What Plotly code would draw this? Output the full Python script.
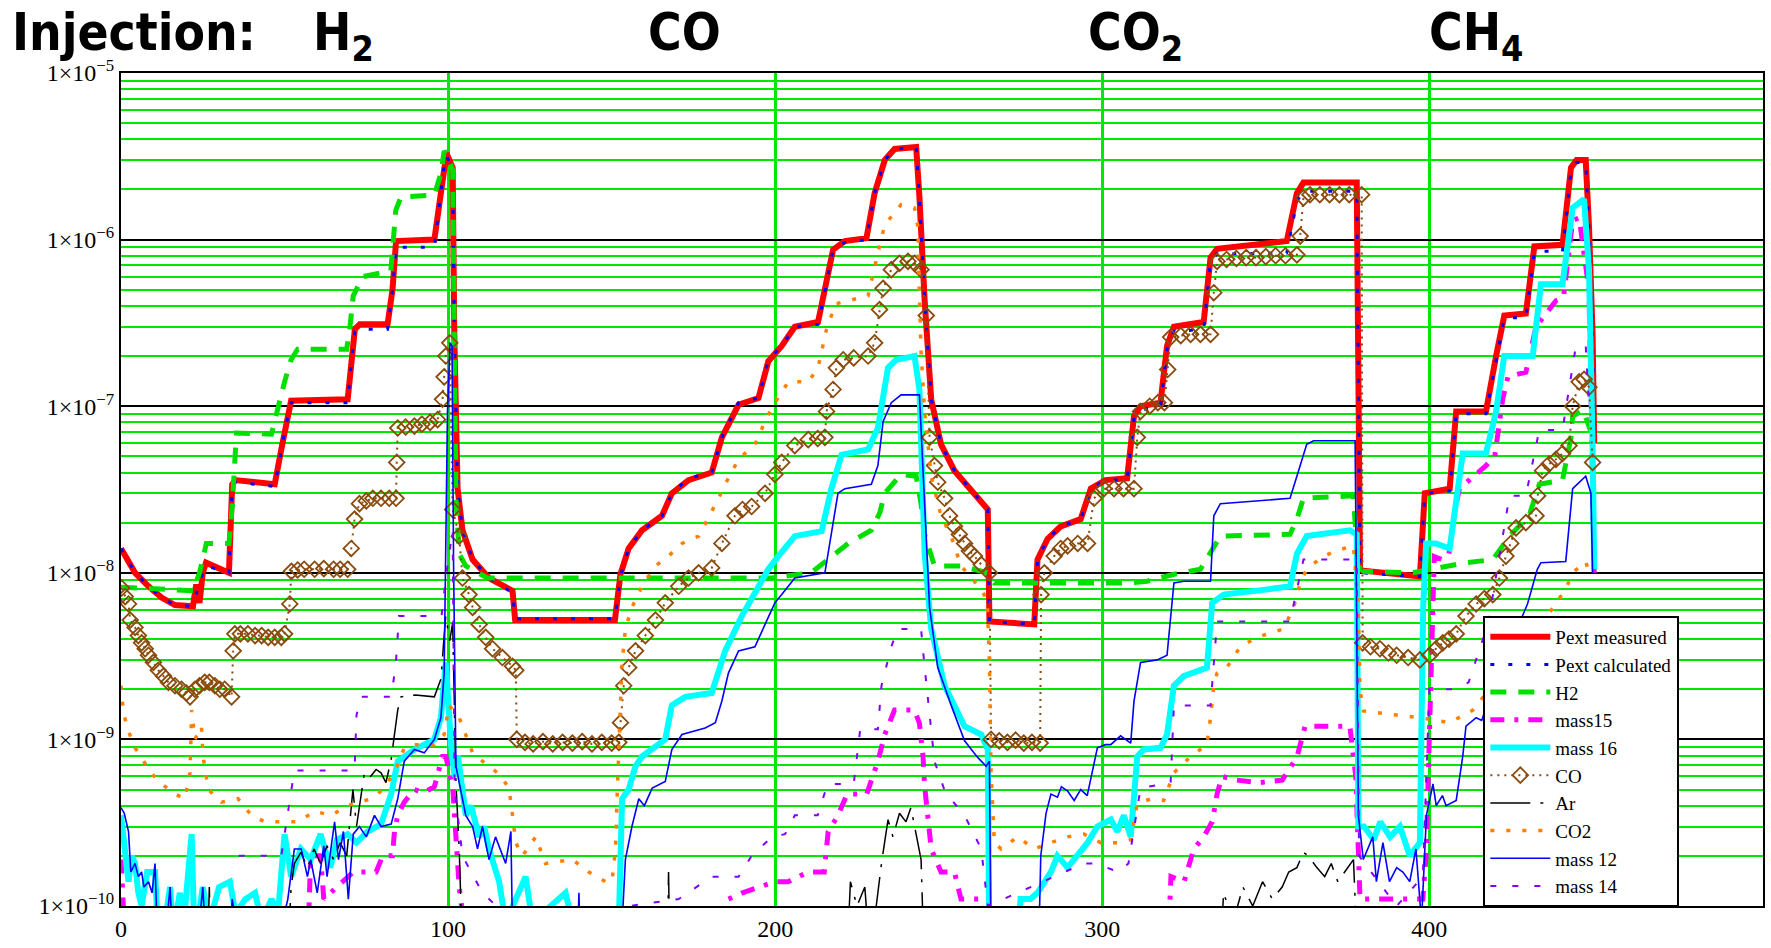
import plotly.graph_objects as go

# ---------------- data (x = time index, y = pressure) ----------------
pext_measured = [
    (0, 1.4e-8), (2.3, 1.17e-8), (4.3, 1.0e-8), (8.4, 8.3e-9), (12.4, 7.1e-9), (16.5, 6.4e-9),
    (21.1, 6.3e-9), (22, 6.3e-9), (23, 8.5e-9), (24, 6.6e-9), (25, 1.0e-8), (26, 1.15e-8),
    (33, 1.0e-8), (34, 3.4e-8), (35, 3.6e-8), (47, 3.4e-8), (49, 5.5e-8), (50, 7e-8),
    (52, 1.08e-7), (69.3, 1.1e-7), (70.5, 2.0e-7), (71.5, 2.9e-7), (73, 3.1e-7), (81.5, 3.1e-7),
    (83, 5e-7), (84.1, 9.8e-7), (95.8, 1.0e-6), (97, 1.5e-6), (98.8, 3.0e-6), (99.5, 3.3e-6),
    (101.4, 2.7e-6), (101.9, 2.7e-7), (102.9, 3.2e-8), (104.4, 1.8e-8), (107.5, 1.2e-8),
    (112.5, 9.3e-9), (119.7, 7.8e-9), (120.5, 5.2e-9), (151, 5.2e-9), (152.7, 9.8e-9),
    (155.2, 1.4e-8), (159.3, 1.8e-8), (165.4, 2.2e-8), (168.4, 3.0e-8), (173.5, 3.6e-8),
    (180.6, 4.0e-8), (183.7, 6.5e-8), (188.8, 1.02e-7), (194.9, 1.12e-7), (197.9, 1.86e-7),
    (202, 2.3e-7), (206, 3.0e-7), (213.1, 3.2e-7), (215.2, 4.9e-7), (217.7, 8.7e-7),
    (221.3, 9.8e-7), (227.9, 1.02e-6), (230.4, 1.9e-6), (233.5, 3.0e-6), (236.5, 3.5e-6),
    (243.1, 3.6e-6), (244.1, 1.8e-6), (245.7, 4.3e-7), (247.7, 1.1e-7), (250.7, 5.9e-8),
    (254.8, 4.1e-8), (260.9, 3.0e-8), (265, 2.4e-8), (265.5, 5.1e-9), (279.2, 4.9e-9),
    (280.2, 1.2e-8), (283.3, 1.6e-8), (287.3, 1.9e-8), (293.4, 2.1e-8), (296.5, 3.2e-8),
    (301, 3.6e-8), (307.6, 3.7e-8), (309.7, 8.7e-8), (311.7, 1.0e-7), (317.8, 1.05e-7),
    (319.8, 2.3e-7), (321.9, 3.0e-7), (331, 3.2e-7), (333.1, 7.8e-7), (335.1, 8.8e-7),
    (356.4, 9.8e-7), (359.5, 1.9e-6), (361.5, 2.2e-6), (377.8, 2.2e-6), (378.8, 1.05e-8),
    (379.8, 1.03e-8), (397.1, 9.5e-9), (398.6, 3.0e-8), (406.2, 3.2e-8), (408.2, 9.3e-8),
    (417.3, 9.3e-8), (420.4, 2.0e-7), (422.9, 3.5e-7), (429.5, 3.6e-7), (432.1, 9.1e-7),
    (440.7, 9.3e-7), (443.3, 2.7e-6), (445, 3.0e-6), (447.8, 3.0e-6), (448.8, 1.2e-6),
    (449.9, 2.7e-7), (450.4, 6e-8),
]

pext_calculated = [
    (0, 1.4e-8), (2.3, 1.17e-8), (4.3, 1.0e-8), (8.4, 8.3e-9), (12.4, 7.1e-9), (16.5, 6.4e-9),
    (21.1, 6.3e-9), (23, 7.5e-9), (25, 1.0e-8), (26, 1.1e-8), (33, 1.0e-8), (34, 3.4e-8),
    (35, 3.5e-8), (47, 3.3e-8), (49, 5.5e-8), (50, 7e-8), (52, 1.05e-7), (69.3, 1.05e-7),
    (70.5, 1.9e-7), (71.5, 2.8e-7), (73, 2.9e-7), (81.5, 2.9e-7), (83, 5e-7), (84.1, 9e-7),
    (95.8, 9e-7), (97, 1.4e-6), (98.8, 2.8e-6), (99.5, 3.2e-6), (101.4, 2.6e-6), (101.9, 2.7e-7),
    (102.9, 3.2e-8), (104.4, 1.8e-8), (107.5, 1.2e-8), (112.5, 9.3e-9), (119.7, 7.6e-9),
    (120.5, 5.3e-9), (151, 5.3e-9), (152.7, 9.5e-9), (155.2, 1.4e-8), (159.3, 1.8e-8),
    (165.4, 2.2e-8), (168.4, 3.0e-8), (173.5, 3.7e-8), (180.6, 4.0e-8), (183.7, 6.5e-8),
    (188.8, 1.05e-7), (194.9, 1.12e-7), (197.9, 1.9e-7), (202, 2.3e-7), (206, 3.0e-7),
    (213.1, 3.1e-7), (215.2, 4.9e-7), (217.7, 8.7e-7), (221.3, 9.6e-7), (227.9, 1.0e-6),
    (230.4, 1.9e-6), (233.5, 3.0e-6), (236.5, 3.5e-6), (243.1, 3.6e-6), (244.1, 1.8e-6),
    (245.7, 4.3e-7), (247.7, 1.1e-7), (250.7, 5.9e-8), (254.8, 4.1e-8), (260.9, 3.0e-8),
    (265, 2.4e-8), (265.5, 5.1e-9), (279.2, 4.9e-9), (280.2, 1.2e-8), (283.3, 1.6e-8),
    (287.3, 1.9e-8), (293.4, 2.1e-8), (296.5, 3.2e-8), (301, 3.6e-8), (307.6, 3.6e-8),
    (309.7, 8.5e-8), (311.7, 9.5e-8), (317.8, 1.0e-7), (319.8, 2.2e-7), (321.9, 2.8e-7),
    (331, 2.9e-7), (333.1, 7.4e-7), (335.1, 8.2e-7), (356.4, 8.3e-7), (359.5, 1.7e-6),
    (361.5, 1.95e-6), (377.8, 1.95e-6), (378.8, 1.0e-8), (397.1, 9.5e-9), (398.6, 3.0e-8),
    (406.2, 3.1e-8), (408.2, 9e-8), (417.3, 9e-8), (420.4, 1.9e-7), (422.9, 3.4e-7),
    (429.5, 3.4e-7), (432.1, 8.5e-7), (440.7, 8.5e-7), (443.3, 2.6e-6), (445, 2.9e-6),
    (447.8, 2.9e-6), (448.8, 1.1e-6), (449.9, 2.5e-7), (450.4, 6e-8),
]

h2 = [
    (0, 8.2e-9), (10, 8.0e-9), (20, 7.8e-9), (22, 7.8e-9), (24, 1.0e-8), (25.1, 1.2e-8),
    (26.1, 1.5e-8), (33, 1.5e-8), (34, 2.5e-8), (35.3, 6.9e-8), (46, 6.8e-8), (50, 1.4e-7),
    (52, 1.9e-7), (54, 2.2e-7), (69, 2.2e-7), (70, 3e-7), (71, 4.6e-7), (74, 6.0e-7),
    (82.5, 6.5e-7), (84, 1.5e-6), (85.6, 1.8e-6), (95.8, 1.85e-6), (97.8, 2.5e-6), (98.8, 3.4e-6),
    (99.8, 3.2e-6), (101.4, 2.6e-6), (101.9, 2.7e-7), (102.4, 2.8e-8), (103.4, 1.3e-8),
    (105.4, 1.1e-8), (112, 9.3e-9), (150, 9.3e-9), (199, 9.3e-9), (211, 1.0e-8), (216.2, 1.2e-8),
    (222.3, 1.5e-8), (229.4, 1.8e-8), (232, 2.3e-8), (233.5, 3.0e-8), (238.5, 3.9e-8),
    (243.1, 3.8e-8), (244.6, 2.6e-8), (245.7, 1.7e-8), (248.7, 1.1e-8), (256.8, 1.1e-8),
    (264.9, 1.0e-8), (267, 8.7e-9), (308.7, 8.7e-9), (313.7, 8.9e-9), (321.9, 9.8e-9),
    (330, 1.05e-8), (332.5, 1.26e-8), (336.1, 1.66e-8), (357.4, 1.7e-8), (359.5, 2.1e-8),
    (361.5, 2.8e-8), (376.7, 2.9e-8), (378.3, 1.1e-8), (379.8, 1.02e-8), (395, 1.0e-8),
    (401, 1.05e-8), (411.2, 1.15e-8), (419.4, 1.2e-8), (424.5, 1.66e-8), (430.5, 2.2e-8),
    (433.6, 3.4e-8), (440.7, 3.6e-8), (443.3, 6.5e-8), (443.8, 8.7e-8), (447, 9.5e-8),
    (449.4, 7e-8),
]

mass15 = [
    (0, 1.9e-10), (0.6, 1.2e-10), (1.5, 5e-11), (57, 5e-11), (58, 2e-10), (61, 2e-10),
    (62, 1.1e-10), (71, 1.6e-10), (78, 1.6e-10), (80, 2e-10), (83, 2e-10), (83.6, 2.8e-10),
    (84.6, 3.5e-10), (86.6, 4.2e-10), (89.7, 5e-10), (92.7, 4.8e-10), (95.8, 5.2e-10),
    (98.3, 7.9e-10), (99.3, 7.9e-10), (101.4, 5.2e-10), (102.4, 2.6e-10), (103.4, 1.3e-10),
    (104.4, 9e-11), (106, 5e-11), (184, 5e-11), (185.7, 1.1e-10), (190, 1.2e-10), (200, 1.4e-10),
    (204, 1.4e-10), (210, 1.6e-10), (215, 1.6e-10), (216.2, 2.8e-10), (219.2, 3.5e-10),
    (222, 4.7e-10), (228, 4.7e-10), (231.4, 7.4e-10), (233.5, 1.07e-9), (236.5, 1.5e-9),
    (242.6, 1.5e-9), (244.1, 1.25e-9), (245.2, 7.9e-10), (245.7, 5.2e-10), (246.7, 3.4e-10),
    (247.7, 2.2e-10), (250.7, 1.6e-10), (254.8, 1.6e-10), (256.8, 1.1e-10), (263, 1.1e-10),
    (264, 5e-11), (320, 5e-11), (321, 1.5e-10), (325, 1.4e-10), (328, 2.2e-10), (331, 2.6e-10),
    (333.6, 3.2e-10), (335.1, 4.7e-10), (336.6, 6e-10), (341, 5.7e-10), (348, 5.5e-10),
    (355, 5.7e-10), (359.5, 7.8e-10), (362, 1.2e-9), (369.6, 1.2e-9), (375.7, 1.2e-9),
    (377.5, 6e-10), (378.8, 1.1e-10), (390, 1.1e-10), (398, 1.1e-10), (399, 2e-10),
    (400.5, 3e-9), (401.5, 1.25e-8), (404, 1.2e-8), (406, 1.3e-8), (408, 2.5e-8), (409.2, 3.2e-8),
    (417.3, 4.4e-8), (420, 5e-8), (422.4, 1.1e-7), (424, 1.5e-7), (429.5, 1.6e-7), (432.6, 3.0e-7),
    (438.7, 4.3e-7), (441, 4.5e-7), (443.8, 1.3e-6), (445.8, 1.35e-6), (448.8, 5e-7),
    (449.9, 5e-8), (450.4, 1e-8),
]

mass16 = [
    (0, 3.5e-10), (1, 2.5e-10), (2.3, 1.4e-10), (3.3, 2e-10), (4.3, 1.8e-10), (5.3, 1.2e-10),
    (6.3, 1e-10), (8, 1.6e-10), (10.4, 1.6e-10), (11.5, 6e-11), (13.4, 8e-11), (15, 1.3e-10),
    (16, 7e-11), (18, 1.2e-10), (19, 7e-11), (20, 1.2e-10), (21.6, 2.7e-10), (22.5, 6e-11),
    (25, 1.3e-10), (27, 8e-11), (30, 1.3e-10), (33.3, 1.4e-10), (35, 9e-11), (38, 1.1e-10),
    (41, 1.2e-10), (43, 8e-11), (46, 1.1e-10), (48, 9e-11), (50, 2.7e-10), (52, 1.5e-10),
    (55, 2.2e-10), (58, 1.9e-10), (61, 2.7e-10), (64, 1.7e-10), (66, 2.5e-10), (69.3, 2.7e-10),
    (72, 2.4e-10), (75.4, 2.8e-10), (79.5, 3.1e-10), (82.6, 4.7e-10), (84.6, 7.4e-10),
    (89.7, 8.7e-10), (95.8, 1.0e-9), (97.8, 1.35e-9), (99.3, 2.9e-9), (100.9, 9.3e-10),
    (102, 6e-10), (103, 8e-10), (105.4, 3.5e-10), (107, 4e-10), (109.5, 2.6e-10), (111, 3e-10),
    (112.5, 2.2e-10), (115.6, 1.4e-10), (117.6, 8e-11), (123.7, 1.5e-10), (125.8, 8e-11),
    (135.9, 1.2e-10), (138, 8e-11), (152.2, 8e-11), (153.2, 4.4e-10), (155.2, 5e-10),
    (157.3, 6.9e-10), (159.3, 7.9e-10), (166.4, 1.0e-9), (168.4, 1.6e-9), (172.5, 1.8e-9),
    (180.6, 1.9e-9), (184.7, 3.4e-9), (189.8, 5.5e-9), (197.9, 1.05e-8), (201, 1.26e-8),
    (206, 1.66e-8), (214.2, 1.78e-8), (217.2, 3.2e-8), (220.3, 5.1e-8), (228.4, 5.5e-8),
    (231.4, 7.4e-8), (234.5, 1.7e-7), (237, 1.9e-7), (242.6, 2.0e-7), (244.1, 1.26e-7),
    (245.7, 1.3e-8), (247.7, 4.6e-9), (251.8, 2.1e-9), (257.9, 1.2e-9), (263, 1.07e-9),
    (265, 8.7e-10), (265.5, 5e-11), (274, 5e-11), (275, 1.1e-10), (278, 1.1e-10),
    (280.2, 1.2e-10), (284.3, 1.6e-10), (286.3, 2e-10), (289.4, 1.7e-10), (292.4, 2e-10),
    (295.5, 2.4e-10), (298.5, 3e-10), (302.6, 3.3e-10), (304.6, 2.8e-10), (306.6, 3.5e-10),
    (308.7, 2.6e-10), (310.7, 7.9e-10), (312.7, 8.7e-10), (317.8, 8.9e-10), (319.8, 1.07e-9),
    (321.9, 2.1e-9), (324.9, 2.4e-9), (332, 2.7e-9), (333.6, 6.6e-9), (337.1, 7.4e-9),
    (349.3, 7.9e-9), (357.4, 8.3e-9), (359.5, 1.3e-8), (362.5, 1.66e-8), (375.7, 1.8e-8),
    (377.8, 1.7e-8), (378.3, 3e-10), (380, 3e-10), (383, 2.5e-10), (385, 3.2e-10), (388, 2.6e-10),
    (391, 3e-10), (394, 2e-10), (397.1, 2.4e-10), (398.1, 6.2e-9), (399, 1.5e-8), (402, 1.5e-8),
    (406.2, 1.4e-8), (410.2, 5.2e-8), (417.3, 5.2e-8), (420.4, 9.3e-8), (422.9, 2.0e-7),
    (431.6, 2.0e-7), (434.1, 5.4e-7), (440.7, 5.4e-7), (443.8, 1.55e-6), (447.3, 1.75e-6),
    (448.8, 6.6e-7), (449.9, 5.9e-8), (450.4, 1.05e-8),
]

co = [
    (0.2, 8.1e-9), (1.3, 7.2e-9), (2.3, 6.5e-9), (2.8, 5.2e-9), (4.3, 4.7e-9), (5.3, 4.2e-9),
    (6.3, 3.8e-9), (7.4, 3.5e-9), (8.4, 3.2e-9), (9.9, 2.9e-9), (11.4, 2.6e-9), (13, 2.4e-9),
    (14.5, 2.2e-9), (16.5, 2.1e-9), (18.5, 2.0e-9), (20, 1.9e-9), (21.1, 1.8e-9), (22.6, 2.0e-9),
    (24, 2.1e-9), (25.6, 2.2e-9), (27, 2.2e-9), (28.7, 2.1e-9), (30.2, 2.0e-9), (31.7, 2.0e-9),
    (33.8, 1.8e-9), (34.3, 3.4e-9), (34.8, 4.3e-9), (36.5, 4.3e-9), (38.8, 4.3e-9), (41, 4.2e-9),
    (43, 4.2e-9), (45, 4.1e-9), (47, 4.1e-9), (49, 4.1e-9), (50, 4.3e-9), (51.6, 6.5e-9),
    (52.1, 1.02e-8), (54, 1.04e-8), (56, 1.05e-8), (59.2, 1.05e-8), (62, 1.06e-8), (65, 1.05e-8),
    (67, 1.05e-8), (69.3, 1.05e-8), (70.4, 1.4e-8), (71.4, 2.1e-8), (72.9, 2.6e-8), (75, 2.7e-8),
    (77, 2.8e-8), (79.5, 2.8e-8), (82, 2.8e-8), (84.1, 2.8e-8), (84.3, 4.6e-8), (84.6, 7.4e-8),
    (87, 7.5e-8), (89.7, 7.6e-8), (92, 7.8e-8), (94.5, 8.0e-8), (96.8, 8.3e-8), (98.3, 1.1e-7),
    (98.8, 1.5e-7), (99.3, 2.0e-7), (100.5, 2.4e-7), (101.4, 2.4e-8), (103.4, 1.66e-8),
    (104.4, 9.3e-9), (106.4, 7.4e-9), (107.5, 6.2e-9), (109.5, 4.9e-9), (111.5, 4.1e-9),
    (113.6, 3.5e-9), (116.6, 3.1e-9), (119.7, 2.75e-9), (120.7, 2.6e-9), (121, 1.0e-9),
    (123.5, 9.6e-10), (126, 9.4e-10), (129, 9.7e-10), (132, 9.4e-10), (135, 9.6e-10),
    (138, 9.5e-10), (141, 9.7e-10), (144, 9.4e-10), (147, 9.6e-10), (150, 9.5e-10),
    (152.2, 9.6e-10), (152.7, 1.26e-9), (153.7, 2.1e-9), (155.2, 2.7e-9), (157.3, 3.4e-9),
    (160.3, 4.2e-9), (163.4, 5.2e-9), (166.4, 6.6e-9), (170.5, 8.3e-9), (173.5, 9.3e-9),
    (176.6, 1.0e-8), (180.6, 1.07e-8), (183.7, 1.5e-8), (187.7, 2.2e-8), (190, 2.4e-8),
    (192.8, 2.5e-8), (196.9, 3.0e-8), (199.9, 3.9e-8), (202, 4.6e-8), (206, 5.8e-8),
    (210.1, 6.3e-8), (213, 6.4e-8), (215.2, 6.5e-8), (215.7, 9.3e-8), (217.7, 1.26e-7),
    (218.7, 1.7e-7), (220.8, 1.9e-7), (224, 1.95e-7), (228.4, 2.0e-7), (230.4, 2.4e-7),
    (231.9, 3.8e-7), (233, 5.1e-7), (235.5, 6.6e-7), (238, 7.2e-7), (240.6, 7.4e-7),
    (242.6, 7.2e-7), (244.6, 6.6e-7), (246.2, 3.5e-7), (247.2, 6.5e-8), (248.7, 4.4e-8),
    (249.7, 3.5e-8), (251.8, 2.8e-8), (253.3, 2.2e-8), (254.8, 1.9e-8), (256.3, 1.7e-8),
    (257.9, 1.5e-8), (259.4, 1.35e-8), (260.9, 1.26e-8), (263, 1.12e-8), (265.5, 1.0e-8),
    (266, 1.0e-9), (268.5, 9.8e-10), (271, 9.6e-10), (273.5, 9.9e-10), (276, 9.5e-10),
    (278.5, 9.6e-10), (281, 9.5e-10), (281.3, 7.4e-9), (282.3, 1.0e-8), (285.3, 1.26e-8),
    (287.3, 1.4e-8), (289.4, 1.45e-8), (292.5, 1.5e-8), (295.5, 1.5e-8), (297.5, 2.8e-8),
    (300.5, 3.2e-8), (303.6, 3.2e-8), (306.5, 3.2e-8), (309.7, 3.2e-8), (310.7, 6.5e-8),
    (311.7, 9.3e-8), (314.5, 1.0e-7), (317, 1.05e-7), (319, 1.05e-7), (320, 1.66e-7),
    (320.9, 2.6e-7), (324, 2.65e-7), (327, 2.7e-7), (330, 2.7e-7), (333.1, 2.7e-7),
    (334.1, 4.8e-7), (335.1, 7.4e-7), (338, 7.6e-7), (341, 7.7e-7), (344, 7.8e-7),
    (347, 7.8e-7), (350, 7.9e-7), (353, 8.0e-7), (356, 8.0e-7), (359.5, 8.1e-7),
    (360.5, 1.05e-6), (361.5, 1.78e-6), (363.5, 1.86e-6), (366.5, 1.86e-6), (369.5, 1.86e-6),
    (372.5, 1.86e-6), (375.5, 1.86e-6), (379.3, 1.86e-6), (379.6, 3.8e-9), (382, 3.6e-9),
    (384.9, 3.5e-9), (387.5, 3.3e-9), (390, 3.2e-9), (393.5, 3.1e-9), (397.1, 3.0e-9),
    (400.1, 3.2e-9), (402, 3.5e-9), (404.1, 3.8e-9), (406, 4.0e-9), (408.2, 4.3e-9),
    (411.2, 5.5e-9), (414.3, 6.5e-9), (416.8, 7.0e-9), (419.4, 7.4e-9), (421.4, 9.3e-9),
    (423.4, 1.26e-8), (424.9, 1.5e-8), (426.5, 1.86e-8), (429.5, 2.0e-8), (432.6, 2.2e-8),
    (433.1, 2.9e-8), (434.6, 4.1e-8), (436.6, 4.5e-8), (438.7, 4.8e-8), (440.7, 5.2e-8),
    (442.7, 5.8e-8), (443.8, 1.0e-7), (445.8, 1.4e-7), (447.3, 1.45e-7), (448.8, 1.3e-7),
    (449.9, 4.6e-8),
]

ar = [
    (0, 5e-11), (26.5, 5e-11), (27, 1.3e-10), (27.5, 5e-11), (51, 5e-11), (52, 1.3e-10),
    (53, 1.8e-10), (55, 2.1e-10), (57, 1.7e-10), (59, 2.2e-10), (61, 1.8e-10), (63, 2.3e-10),
    (65, 1.9e-10), (67, 2.4e-10), (69, 2.0e-10), (70.9, 5e-10), (72, 3e-10), (74.4, 6.3e-10),
    (76, 5.9e-10), (78, 6.6e-10), (79.5, 6.3e-10), (81, 5.5e-10), (82.6, 7.6e-10),
    (84.6, 1.5e-9), (85.6, 1.8e-9), (90, 1.85e-9), (95.8, 1.8e-9), (97.8, 2.3e-9),
    (98.8, 4.2e-9), (99.3, 5.5e-9), (100.5, 3.9e-9), (101.4, 5e-9), (102.4, 5.5e-10),
    (103.4, 2.2e-10), (104.4, 5e-11), (167, 5e-11), (167.4, 1.6e-10), (167.8, 5e-11),
    (222, 5e-11), (223, 1.4e-10), (225, 1e-10), (227.4, 1.3e-10), (229, 5e-11), (232.5, 1.8e-10),
    (234.5, 3.3e-10), (236, 2.6e-10), (238, 3.6e-10), (240, 3.2e-10), (241.5, 3.9e-10),
    (243, 2.8e-10), (244.6, 1.9e-10), (245.5, 5e-11), (336, 5e-11), (337.1, 1.2e-10),
    (340, 8e-11), (343, 1.3e-10), (346, 1e-10), (349, 1.4e-10), (352, 1.1e-10), (355, 1.3e-10),
    (357, 1.6e-10), (359.5, 1.7e-10), (361.5, 2.1e-10), (363, 2.0e-10), (365.6, 1.7e-10),
    (368, 1.5e-10), (370, 1.8e-10), (372, 1.4e-10), (374, 1.6e-10), (376.8, 1.9e-10),
    (378, 5e-11), (450, 5e-11),
]

co2 = [
    (0, 2.1e-9), (0.7, 1.5e-9), (1.7, 1.2e-9), (4.3, 8.9e-10), (6.3, 7.8e-10), (8.4, 6.6e-10),
    (11.4, 5.6e-10), (16.5, 4.7e-10), (19.5, 4.4e-10), (21.1, 6.3e-10), (21.6, 1.5e-9),
    (22.6, 1.0e-9), (24.6, 1.2e-9), (25.1, 7.9e-10), (26.7, 5e-10), (30.7, 4.2e-10),
    (35.8, 4.4e-10), (39.9, 3.5e-10), (44, 3.2e-10), (49, 3.2e-10), (54.1, 3.2e-10),
    (59.2, 3.7e-10), (64.3, 3.5e-10), (69.3, 4e-10), (76.5, 4.4e-10), (79.5, 4.9e-10),
    (83.6, 6.3e-10), (86.6, 8.9e-10), (89.7, 9.3e-10), (95.8, 9.3e-10), (98.8, 1.07e-9),
    (100.3, 1.6e-9), (103.4, 1.35e-9), (107.5, 8.3e-10), (110.5, 7.4e-10), (115.6, 6.2e-10),
    (118.6, 5.1e-10), (119.7, 3.5e-10), (120.7, 2.4e-10), (122.7, 2.0e-10), (126.8, 2.6e-10),
    (129.8, 1.8e-10), (138, 1.9e-10), (143, 1.6e-10), (148.1, 1.4e-10), (150.1, 1.4e-10),
    (151.2, 2.2e-10), (151.7, 4.7e-10), (152.2, 1.0e-9), (152.7, 1.6e-9), (153.2, 2.9e-9),
    (154.2, 4.6e-9), (156.2, 6.2e-9), (159.3, 8.3e-9), (163.4, 1.1e-8), (167.4, 1.26e-8),
    (171.5, 1.5e-8), (176.6, 1.66e-8), (182.7, 2.8e-8), (184.7, 3.4e-8), (188.8, 4.8e-8),
    (193.8, 5.9e-8), (196.9, 8.1e-8), (199, 9.8e-8), (204, 1.4e-7), (210.1, 1.4e-7),
    (213.1, 1.7e-7), (215.7, 2.9e-7), (217.2, 3.5e-7), (218.2, 4.1e-7), (228.4, 4.6e-7),
    (230.4, 6.6e-7), (231.4, 8.3e-7), (233.5, 1.23e-6), (238.5, 1.62e-6), (242.6, 1.55e-6),
    (243.6, 1.2e-6), (244.1, 4.6e-7), (244.6, 2.1e-7), (245.7, 9.3e-8), (247.7, 3.8e-8),
    (250.7, 2.2e-8), (253.8, 1.66e-8), (256.8, 1.1e-8), (260.9, 8.9e-9), (263.9, 7.4e-9),
    (264.9, 6.2e-9), (265.5, 2.9e-9), (265.7, 1.35e-9), (266, 6.3e-10), (267, 2.4e-10),
    (269.1, 2.2e-10), (274.1, 2.6e-10), (279.2, 2.2e-10), (284.3, 2.4e-10), (289.4, 2.6e-10),
    (294.4, 2.7e-10), (299.5, 2.4e-10), (305, 2.4e-10), (308.7, 2.5e-10), (310.7, 4.1e-10),
    (314.8, 4.4e-10), (318.8, 4.3e-10), (321.9, 6.3e-10), (327, 7.9e-10), (332, 9.3e-10),
    (333.1, 1.35e-9), (334.1, 2.1e-9), (335.1, 2.5e-9), (338.1, 2.7e-9), (342.2, 3.6e-9),
    (347.3, 4.1e-9), (355.4, 4.6e-9), (358.5, 6.2e-9), (360.5, 8.7e-9), (362.5, 1.05e-8),
    (367.6, 1.26e-8), (372.7, 1.38e-8), (376.8, 1.45e-8), (378.3, 6.2e-9), (378.8, 2e-9),
    (379.8, 1.48e-9), (390, 1.4e-9), (397.1, 1.35e-9), (406.2, 1.26e-9), (413.3, 1.5e-9),
    (420, 2.2e-9), (428, 3.5e-9), (436, 5.5e-9), (441.7, 8e-9), (443.8, 1.0e-8),
    (447.8, 1.17e-8), (448.8, 1.0e-8),
]

mass12 = [
    (0, 3.9e-10), (1, 3.6e-10), (2.3, 2.8e-10), (3, 1.6e-10), (4.3, 1.8e-10), (5.3, 1.5e-10),
    (6.3, 1.6e-10), (7, 1.3e-10), (8.4, 1.4e-10), (9.5, 1.2e-10), (10.4, 1.8e-10), (11.3, 5e-11),
    (14, 8e-11), (15, 1.3e-10), (16, 5e-11), (24, 8e-11), (25, 1.3e-10), (26, 6e-11),
    (33, 5e-11), (34, 1.1e-10), (36, 6e-11), (45, 5e-11), (46, 1.0e-10), (47, 5e-11),
    (51, 1.1e-10), (53, 2.2e-10), (55.1, 2.2e-10), (57, 1.5e-10), (58, 1.9e-10), (60, 1.2e-10),
    (62, 2.3e-10), (63, 1.5e-10), (65.3, 3.2e-10), (66.5, 1.9e-10), (68, 2.8e-10),
    (69.5, 1.1e-10), (71, 2.7e-10), (72.9, 3e-10), (75, 2.6e-10), (77.5, 3.5e-10), (79.5, 3e-10),
    (82.6, 3.1e-10), (84.6, 4.4e-10), (86.6, 7.4e-10), (89.7, 8.7e-10), (92.7, 8.3e-10),
    (95.8, 1.0e-9), (97.8, 1.35e-9), (98.8, 2.5e-9), (99.3, 1.5e-8), (99.8, 9e-8),
    (100.6, 2.4e-7), (101.2, 2.3e-7), (101.7, 1.0e-8), (102.4, 6.9e-10), (103.4, 5.5e-10),
    (105.4, 3.5e-10), (107.5, 3e-10), (109, 2.2e-10), (110.5, 3e-10), (112.5, 1.9e-10),
    (114.5, 2.6e-10), (117.6, 1.8e-10), (119.2, 2.8e-10), (119.8, 5e-11), (139.5, 5e-11),
    (140, 1.2e-10), (140.5, 5e-11), (152.7, 5e-11), (154.2, 1.9e-10), (156.2, 3e-10),
    (158.3, 4.4e-10), (160, 4e-10), (162.4, 5.1e-10), (166.4, 5.6e-10), (168.4, 8.7e-10),
    (171.5, 1.07e-9), (178.6, 1.17e-9), (181.7, 1.26e-9), (183.7, 1.7e-9), (185.7, 2.5e-9),
    (188.8, 3.4e-9), (193.8, 3.6e-9), (196.9, 4.9e-9), (199.9, 6.6e-9), (202, 7.4e-9),
    (206, 9.3e-9), (215.2, 1.0e-8), (216.7, 1.5e-8), (219.2, 3.0e-8), (221.3, 3.2e-8),
    (229.4, 3.4e-8), (231.4, 4.4e-8), (233, 8.1e-8), (235.5, 1.05e-7), (238.5, 1.17e-7),
    (244.1, 1.17e-7), (245.7, 2.8e-8), (247.2, 6.2e-9), (249.7, 2.7e-9), (253.8, 1.6e-9),
    (257.9, 9.8e-10), (261.9, 7.8e-10), (264.5, 6.9e-10), (265.5, 7.4e-10), (266, 5e-11),
    (280.5, 5e-11), (281.2, 2e-10), (282.8, 3.6e-10), (284.3, 4.7e-10), (286.3, 4.5e-10),
    (287.5, 5.2e-10), (289.4, 4.9e-10), (291.4, 4.3e-10), (293.4, 5e-10), (295.4, 4.6e-10),
    (297.5, 7.4e-10), (298.5, 8.9e-10), (301, 9.3e-10), (302.6, 9.3e-10), (305.6, 1.05e-9),
    (308.7, 9.5e-10), (309.7, 1.7e-9), (311.7, 2.9e-9), (316.8, 3.0e-9), (319.8, 3.2e-9),
    (321.9, 8.7e-9), (324.9, 8.9e-9), (333.1, 8.9e-9), (334.1, 2.2e-8), (336.1, 2.6e-8),
    (357.4, 2.8e-8), (359.5, 3.8e-8), (362.5, 5.9e-8), (364.6, 6.2e-8), (377.3, 6.2e-8),
    (378.3, 3.5e-10), (379.8, 1.9e-10), (382.7, 2.6e-10), (383.8, 1.4e-10), (385.8, 2.4e-10),
    (387.8, 1.4e-10), (390, 1.7e-10), (391.9, 1.6e-10), (394, 1.4e-10), (395.9, 2.2e-10),
    (397.6, 8e-11), (399.1, 3.5e-10), (401.1, 5.4e-10), (402.1, 4e-10), (404, 4.6e-10),
    (405.1, 4e-10), (408.2, 4.3e-10), (410.2, 7.9e-10), (411.2, 1.2e-9), (414.3, 1.35e-9),
    (416, 1.3e-9), (420, 2.2e-9), (425, 3.8e-9), (430, 6.5e-9), (433, 1.05e-8), (434.1, 1.15e-8),
    (441.7, 1.17e-8), (443.8, 3.2e-8), (447.8, 3.8e-8), (449.4, 3.0e-8), (449.9, 1.0e-8),
]

mass14 = [
    (36, 2e-10), (49, 2e-10), (53, 6.5e-10), (71.4, 6.5e-10), (72, 1.4e-9), (73.4, 1.8e-9),
    (82.6, 1.8e-9), (84, 2.8e-9), (85, 5.5e-9), (98, 5.5e-9), (99.5, 1e-8), (101.4, 1.8e-8),
    (102, 5e-10), (104.4, 2e-10), (110.5, 1.2e-10), (120, 8e-11), (170.5, 1.1e-10),
    (180.6, 1.5e-10), (188.8, 1.5e-10), (192.8, 2e-10), (199, 2.6e-10), (203, 2.7e-10),
    (206, 3.5e-10), (213, 3.5e-10), (216, 5.4e-10), (224, 5.4e-10), (226, 1.15e-9),
    (231.4, 1.15e-9), (232.5, 2.1e-9), (235.5, 3.6e-9), (237.5, 4.6e-9), (244.6, 4.6e-9),
    (245.7, 2.7e-9), (248.7, 7.4e-10), (252, 4.8e-10), (257.9, 3.5e-10), (263, 2.2e-10),
    (265, 1e-10), (294.4, 1.8e-10), (298, 1.8e-10), (305, 1.6e-10), (308, 1.8e-10),
    (311.7, 5.1e-10), (320.9, 5.5e-10), (321.9, 1.6e-9), (333.1, 1.6e-9), (335.1, 5.1e-9),
    (357.4, 5.1e-9), (361.5, 1.2e-8), (377.8, 1.2e-8), (378.5, 2e-10), (390, 1e-10),
    (398, 1.5e-10), (400, 2e-9), (408.2, 2e-9), (412, 2.2e-9), (418, 5e-9), (424.5, 2.9e-8),
    (429.5, 2.9e-8), (433.6, 7.2e-8), (440.7, 7.2e-8), (444.8, 2.3e-7), (447.8, 2.3e-7),
    (448.8, 1.0e-7),
]

x_ticks = [0, 100, 200, 300, 400]
y_decades = [1e-10, 1e-9, 1e-8, 1e-7, 1e-6, 1e-5]
y_labels = ["1×10<sup>−10</sup>", "1×10<sup>−9</sup>", "1×10<sup>−8</sup>",
            "1×10<sup>−7</sup>", "1×10<sup>−6</sup>", "1×10<sup>−5</sup>"]
y_minor = [m * d for d in y_decades[:-1] for m in range(2, 10)]

titles = [("Injection:", 10), ("H<sub>2</sub>", 311), ("CO", 647),
          ("CO<sub>2</sub>", 1087), ("CH<sub>4</sub>", 1429)]

# ---------------- styles ----------------
GREEN = "#00e800"
BROWN = "#8a4b0c"
series = [
    ("Pext measured", pext_measured, dict(color="#ff0000", width=6), None),
    ("Pext calculated", pext_calculated, dict(color="#0000ff", width=3, dash="4px,14px"), None),
    ("H2", h2, dict(color="#00e000", width=5, dash="16px,12px"), None),
    ("mass15", mass15, dict(color="#ff00ff", width=5, dash="14px,10px,4px,10px"), None),
    ("mass 16", mass16, dict(color="#00ffff", width=6), None),
    ("CO", co, dict(color=BROWN, width=2, dash="2px,5px"),
     dict(symbol="diamond-open", size=12, color=BROWN, line=dict(width=1.8, color=BROWN))),
    ("Ar", ar, dict(color="#000000", width=1.5, dash="40px,10px,3px,10px"), None),
    ("CO2", co2, dict(color="#ff8000", width=3.5, dash="4px,12px"), None),
    ("mass 12", mass12, dict(color="#0000ff", width=1.6), None),
    ("mass 14", mass14, dict(color="#8000ff", width=2, dash="6px,16px"), None),
]

fig = go.Figure()
for name, pts, line, marker in series:
    xs = [p[0] for p in pts]
    ys = [p[1] for p in pts]
    kw = dict(x=xs, y=ys, name=name, line=line)
    if marker:
        kw["mode"] = "lines+markers"
        kw["marker"] = marker
    else:
        kw["mode"] = "lines"
    fig.add_trace(go.Scatter(**kw))

PLOT_L, PLOT_R, PLOT_T, PLOT_B = 121, 1765, 73, 917
W, H = 1771, 948
pw = PLOT_R - PLOT_L
ph = PLOT_B - PLOT_T

for text, px in titles:
    fig.add_annotation(
        text=text, xref="paper", yref="paper",
        x=(px - PLOT_L) / pw, y=1 + (PLOT_T - 0) / ph,
        xanchor="left", yanchor="top", showarrow=False,
        font=dict(family="DejaVu Sans Condensed, DejaVu Sans", size=51, color="black", weight="bold"),
    )

fig.update_layout(
    width=W, height=H,
    margin=dict(l=PLOT_L, r=W - PLOT_R, t=PLOT_T, b=H - PLOT_B, pad=0),
    paper_bgcolor="white", plot_bgcolor="white",
    legend=dict(
        x=(1485 - PLOT_L) / pw, y=(PLOT_B - 623) / ph, xanchor="left", yanchor="top",
        bgcolor="white", bordercolor="black", borderwidth=2,
        font=dict(family="Liberation Serif", size=19, color="black"),
        itemwidth=60, tracegroupgap=0,
    ),
)
fig.update_xaxes(
    range=[0, 502], tickmode="array", tickvals=x_ticks, ticktext=[str(v) for v in x_ticks],
    showgrid=True, gridcolor=GREEN, gridwidth=2.5, zeroline=False,
    showline=True, linecolor="black", linewidth=2, mirror=True, ticks="",
    tickfont=dict(family="Liberation Serif", size=24, color="black"),
)
fig.update_yaxes(
    type="log", range=[-10, -5], tickmode="array", tickvals=y_decades, ticktext=y_labels,
    showgrid=True, gridcolor="black", gridwidth=1.5, zeroline=False,
    minor=dict(tickmode="array", tickvals=y_minor, showgrid=True, gridcolor=GREEN, gridwidth=2, ticks=""),
    showline=True, linecolor="black", linewidth=2, mirror=True, ticks="",
    tickfont=dict(family="Liberation Serif", size=24, color="black"),
)

fig.write_html("out.html")
